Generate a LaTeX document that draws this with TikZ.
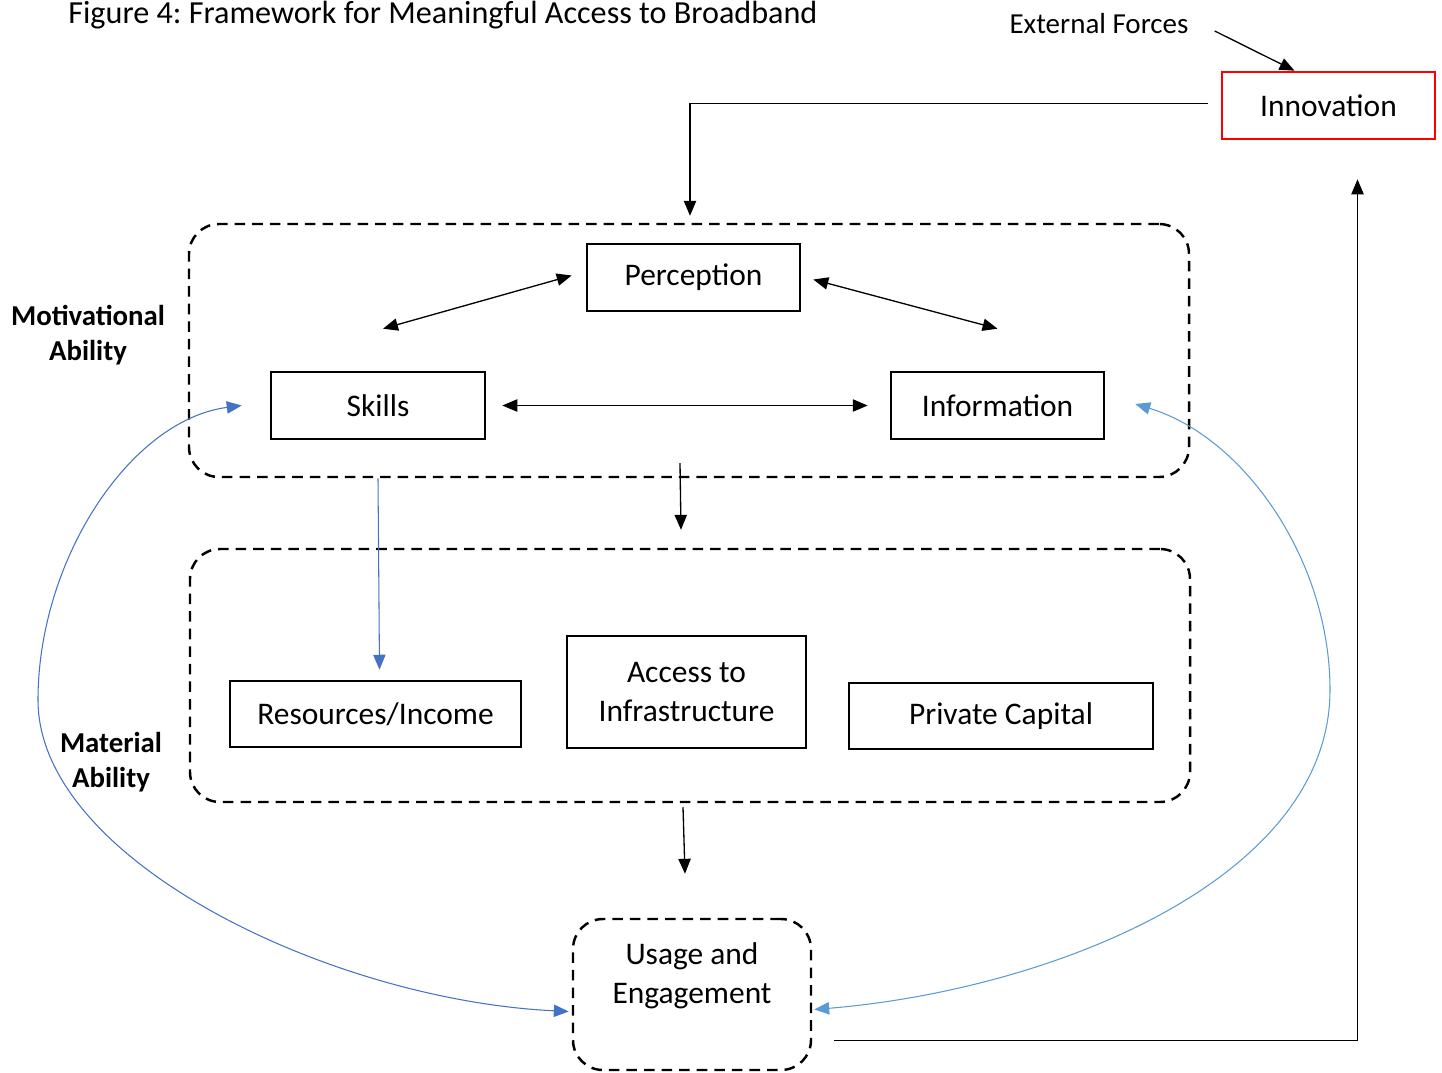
\documentclass[tikz,border=0pt]{standalone}
\usepackage{fontspec}
\setmainfont{Carlito}
\usetikzlibrary{arrows.meta,calc}
\definecolor{innored}{HTML}{FF0000}
\definecolor{loopblue}{HTML}{4472C4}
\definecolor{loopsky}{HTML}{5B9BD5}
\frenchspacing

\begin{document}
\begin{tikzpicture}[
  x=0.2mm, y=-0.2mm,
  font=\fontsize{17.9}{22.1}\selectfont,
  >={Triangle[length=8.5pt,width=7pt]},
  box/.style={rectangle, draw=black, line width=1.5pt, align=center,
              inner sep=2pt, minimum height=13.4mm},
  innobox/.style={box, draw=innored},
  zone/.style={rectangle, rounded corners=6mm, draw=black, line width=1.4pt,
               dash pattern=on 6pt off 4pt},
  side/.style={font=\fontsize{16.4}{20.1}\selectfont\bfseries, align=center},
  flow/.style={->, line width=0.75pt},
  both/.style={<->, line width=0.75pt},
  loop/.style={<->, line width=0.6pt},
]
\useasboundingbox (0,0) rectangle (1442,1072);

% ---- title and external driver ----
\node[anchor=west, inner sep=0pt, font=\fontsize{18.3}{22}\selectfont] (title) at (68,15)
  {Figure 4: Framework for Meaningful Access to Broadband};
\node[font=\fontsize{16.5}{20}\selectfont] (ext) at (1099,24) {External Forces};
\node[innobox, minimum width=42.6mm] (innovation) at (1328.5,105.5) {Innovation};

% ---- motivational ability ----
\node[zone, minimum width=200mm, minimum height=50.6mm] (motiv) at (689,350.5) {};
\node[box, minimum width=42.6mm] (perception) at (693.5,277.5) {Perception};
\node[box, minimum width=42.8mm] (skills) at (378,405.5) {Skills};
\node[box, minimum width=42.6mm] (information) at (997.5,405.5) {Information};
\node[side] (motivlabel) at (88,335) {Motivational\\Ability};

% ---- material ability ----
\node[zone, minimum width=200mm, minimum height=50.6mm] (material) at (690,675.5) {};
\node[box, minimum width=58.2mm, minimum height=13.2mm] (resources) at (375.5,714) {Resources/Income};
\node[box, minimum width=47.8mm, minimum height=22.4mm] (access) at (686.5,692) {Access to\\Infrastructure};
\node[box, minimum width=60.8mm, minimum height=13.2mm] (private) at (1001,716) {Private Capital};
\node[side] (matlabel) at (111,762) {Material\\Ability};

% ---- outcome ----
\node[zone, minimum width=47.6mm, minimum height=30.2mm] (usage) at (692,994.5) {};
\node[align=center] (usagetext) at (692,976) {Usage and\\Engagement};

% ---- connectors ----
\draw[flow] ($(ext.east)+(20,7)$) -- ($(innovation.north)+(-34,0)$);
\draw[flow] ($(innovation.west)+(-13,-2)$) -| ($(motiv.north)+(1,-7)$);
\draw[both] ($(skills.north)+(5,-42)$) -- ($(perception.west)+(-14,-2)$);
\draw[both] ($(perception.east)+(12,2)$) -- ($(information.north)+(0,-42)$);
\draw[both] ($(skills.east)+(16,0)$) -- ($(information.west)+(-22,0)$);
\draw[flow] ($(motiv.south)+(-9,-15)$) -- ($(material.north)+(-9,-18)$);
\draw[flow] ($(material.south)+(-7,4)$) -- ($(usage.north)+(-7,-44)$);
\draw[flow, draw=loopblue, line width=0.6pt] ($(skills.south)+(0,38)$) -- ($(resources.north)+(4,-10)$);
\draw[flow] ($(usage.east)+(22,46)$) -| ($(innovation.south)+(29,39)$);

% ---- feedback loops ----
\draw[loop, draw=loopblue] ($(skills.west)+(-28,0)$)
  .. controls (130,420) and (38,560) .. (38,700)
  .. controls (38,860) and (330,1000) .. ($(usage.west)+(-3,17)$);
\draw[loop, draw=loopsky] ($(information.east)+(30,-1.5)$)
  .. controls (1244,437) and (1330,560) .. (1330,690)
  .. controls (1330,880) and (1050,990) .. ($(usage.east)+(2,15)$);
\end{tikzpicture}
\end{document}
